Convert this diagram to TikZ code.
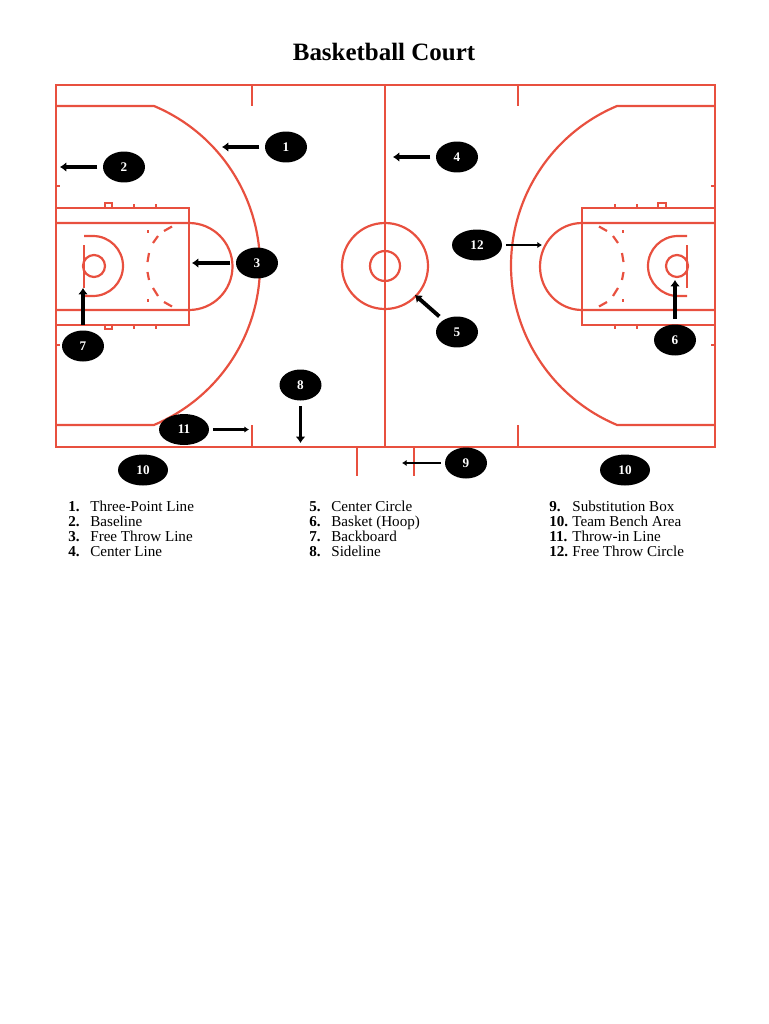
\documentclass[tikz,border=0pt]{standalone}
\usepackage{fontspec}
\setmainfont{Liberation Serif}
\definecolor{courtred}{HTML}{E8503F}
\usetikzlibrary{shapes.geometric, arrows.meta}
\tikzset{
	court/.style={draw=courtred, line width=1.25pt},
	courtthin/.style={draw=courtred, line width=0.9pt},
	callout/.style={ellipse, fill=black, text=white, inner sep=0pt, minimum width=0.84cm, minimum height=0.62cm, font=\fontsize{7.5}{9}\selectfont\bfseries},
	wide/.style={minimum width=1cm},
	pointer/.style={line width=2.2pt, -{Latex[length=3.6pt, width=5.6pt]}, shorten <=3pt},
	thinpointer/.style={line width=1.3pt, -{Latex[length=2.6pt, width=3.6pt]}, shorten <=2pt},
	legend/.style={anchor=base west, inner sep=0pt, font=\fontsize{8.6}{10}\selectfont},
}
\begin{document}
\begin{tikzpicture}[x=0.02cm, y=-0.02cm]
		\useasboundingbox (0, 0) rectangle (768, 1024);

		\node[inner sep=0pt, font=\fontsize{14.2}{16}\selectfont\bfseries] (title) at (384, 52) {Basketball Court};

		\draw[court] (56, 85) rectangle (715, 447);
		\draw[court] (385, 85) -- (385, 447);
		\draw[court] (252, 85) -- (252, 106);
		\draw[court] (518, 85) -- (518, 106);
		\draw[court] (252, 425) -- (252, 447);
		\draw[court] (518, 425) -- (518, 447);
		\draw[court] (357, 447) -- (357, 476);
		\draw[court] (414, 447) -- (414, 476);

		\draw[court] (385, 266) circle (43);
		\draw[court] (385, 266) circle (15);

		\draw[court] (56, 106) -- (154, 106) arc[start angle=-67.2, end angle=67.2, radius=173] -- (56, 425);
		\draw[court] (715, 106) -- (617, 106) arc[start angle=247.2, end angle=112.8, radius=173] -- (715, 425);

		\draw[court] (56, 208) rectangle (189, 325);
		\draw[court] (56, 223) -- (189, 223) arc[start angle=-90, end angle=90, radius=43.5] -- (56, 310);
		\draw[court] (84, 236) -- (93, 236) arc[start angle=-90, end angle=90, radius=30] -- (84, 296);
		\draw[court] (84, 245) -- (84, 288);
		\draw[court] (94, 266) circle (11);

		\draw[court] (582, 208) rectangle (715, 325);
		\draw[court] (715, 223) -- (582, 223) arc[start angle=270, end angle=90, x radius=42, y radius=43.5] -- (715, 310);
		\draw[court] (687, 236) -- (678, 236) arc[start angle=270, end angle=90, radius=30] -- (687, 296);
		\draw[court] (687, 245) -- (687, 288);
		\draw[court] (677, 266) circle (11);

		\draw[courtthin] (105, 203) rectangle (112, 208);
		\draw[courtthin] (105, 325) rectangle (112, 329);
		\draw[courtthin] (134, 204) -- (134, 208);
		\draw[courtthin] (156, 204) -- (156, 208);
		\draw[courtthin] (134, 325) -- (134, 329);
		\draw[courtthin] (156, 325) -- (156, 329);
		\draw[courtthin] (658, 203) rectangle (666, 208);
		\draw[courtthin] (615, 204) -- (615, 208);
		\draw[courtthin] (637, 204) -- (637, 208);
		\draw[courtthin] (615, 325) -- (615, 329);
		\draw[courtthin] (637, 325) -- (637, 329);
		\draw[courtthin] (56, 186) -- (60, 186);
		\draw[courtthin] (56, 345) -- (60, 345);
		\draw[courtthin] (711, 186) -- (715, 186);
		\draw[courtthin] (711, 345) -- (715, 345);

		\draw[court] (172, 226.5) -- (164, 231);
		\draw[court] (158, 236) -- (153, 243);
		\draw[court] (149, 253) -- (147.5, 262);
		\draw[court] (147.5, 272) -- (149, 280);
		\draw[court] (153, 288) -- (158, 296);
		\draw[court] (164, 302) -- (172, 306.5);
		\draw[court] (148, 230) -- (148, 233);
		\draw[court] (148, 299) -- (148, 302);

		\draw[court] (599, 226.5) -- (607, 231);
		\draw[court] (613, 236) -- (618, 243);
		\draw[court] (622, 253) -- (623.5, 262);
		\draw[court] (623.5, 272) -- (622, 280);
		\draw[court] (618, 288) -- (613, 296);
		\draw[court] (607, 302) -- (599, 306.5);
		\draw[court] (623, 230) -- (623, 233);
		\draw[court] (623, 299) -- (623, 302);

		\node[callout] (n1) at (286, 147) {1};
		\node[callout] (n2) at (124, 167) {2};
		\node[callout] (n3) at (257, 263) {3};
		\node[callout] (n4) at (457, 157) {4};
		\node[callout] (n5) at (457, 332) {5};
		\node[callout] (n6) at (675, 340) {6};
		\node[callout] (n7) at (83, 346) {7};
		\node[callout] (n8) at (300.5, 385) {8};
		\node[callout] (n9) at (466, 463) {9};
		\node[callout, wide] (n10a) at (143, 470) {10};
		\node[callout, wide] (n10b) at (625, 470) {10};
		\node[callout, wide] (n11) at (184, 429.5) {11};
		\node[callout, wide] (n12) at (477, 245) {12};

		\coordinate (tip1) at (222, 147);
		\coordinate (tip2) at (60, 167);
		\coordinate (tip3) at (192, 263);
		\coordinate (tip4) at (393, 157);
		\coordinate (tip5) at (415, 295);
		\coordinate (tip6) at (675, 280);
		\coordinate (tip7) at (83, 288);
		\coordinate (tip8) at (300.5, 443);
		\coordinate (tip9) at (402, 463);
		\coordinate (tip11) at (249, 429.5);
		\coordinate (tip12) at (542, 245);

		\draw[pointer] (n1) -- (tip1);
		\draw[pointer] (n2) -- (tip2);
		\draw[pointer] (n3) -- (tip3);
		\draw[pointer] (n4) -- (tip4);
		\draw[pointer] (n5) -- (tip5);
		\draw[pointer] (n6) -- (tip6);
		\draw[pointer] (n7) -- (tip7);
		\draw[pointer, line width=1.7pt] (n8) -- (tip8);
		\draw[thinpointer] (n9) -- (tip9);
		\draw[thinpointer] (n11) -- (tip11);
		\draw[thinpointer] (n12) -- (tip12);

		\node[legend] (num1) at (68, 511) {\textbf{1.}};
		\node[legend] (num2) at (68, 526) {\textbf{2.}};
		\node[legend] (num3) at (68, 541) {\textbf{3.}};
		\node[legend] (num4) at (68, 556) {\textbf{4.}};
		\node[legend] (txt1) at (90, 511) {Three-Point Line};
		\node[legend] (txt2) at (90, 526) {Baseline};
		\node[legend] (txt3) at (90, 541) {Free Throw Line};
		\node[legend] (txt4) at (90, 556) {Center Line};

		\node[legend] (num5) at (309, 511) {\textbf{5.}};
		\node[legend] (num6) at (309, 526) {\textbf{6.}};
		\node[legend] (num7) at (309, 541) {\textbf{7.}};
		\node[legend] (num8) at (309, 556) {\textbf{8.}};
		\node[legend] (txt5) at (331, 511) {Center Circle};
		\node[legend] (txt6) at (331, 526) {Basket (Hoop)};
		\node[legend] (txt7) at (331, 541) {Backboard};
		\node[legend] (txt8) at (331, 556) {Sideline};

		\node[legend] (num9) at (549, 511) {\textbf{9.}};
		\node[legend] (num10) at (549, 526) {\textbf{10.}};
		\node[legend] (num11) at (549, 541) {\textbf{11.}};
		\node[legend] (num12) at (549, 556) {\textbf{12.}};
		\node[legend] (txt9) at (572, 511) {Substitution Box};
		\node[legend] (txt10) at (572, 526) {Team Bench Area};
		\node[legend] (txt11) at (572, 541) {Throw-in Line};
		\node[legend] (txt12) at (572, 556) {Free Throw Circle};
\end{tikzpicture}
\end{document}
